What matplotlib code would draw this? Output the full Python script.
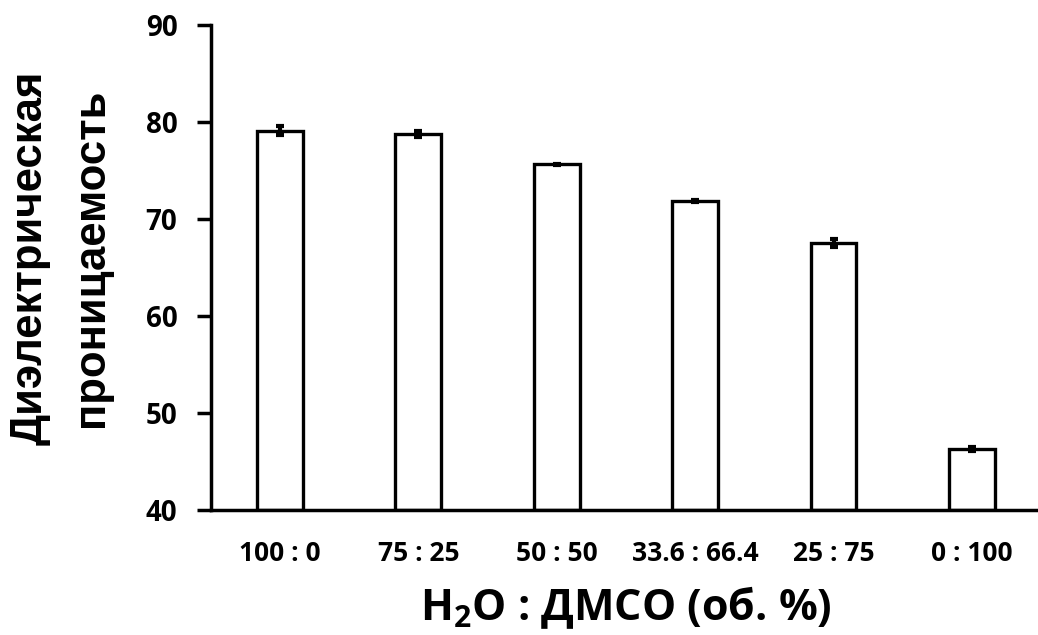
import matplotlib
matplotlib.use("Agg")
import matplotlib.pyplot as plt

# data
ratios = ["100 : 0", "75 : 25", "50 : 50", "33.6 : 66.4", "25 : 75", "0 : 100"]
permittivity = [79.1, 78.7, 75.6, 71.8, 67.5, 46.3]
errors = [0.5, 0.3, 0.1, 0.1, 0.4, 0.2]
y_ticks = [40, 50, 60, 70, 80, 90]

plt.rcParams["font.family"] = ["Open Sans", "DejaVu Sans"]
plt.rcParams["font.weight"] = "bold"
plt.rcParams["mathtext.fontset"] = "custom"
plt.rcParams["mathtext.rm"] = "Open Sans:bold"
plt.rcParams["mathtext.default"] = "rm"

fig = plt.figure(figsize=(10.38, 6.35), dpi=100)
ax = fig.add_axes([0.203, 0.197, 0.80, 0.764])

x = list(range(len(ratios)))
ax.bar(x, [v - 40 for v in permittivity], bottom=40, width=0.33,
       color="white", edgecolor="black", linewidth=2.4, zorder=2)
ax.errorbar(x, permittivity, yerr=errors, fmt="none", ecolor="black",
            elinewidth=3, capsize=3, capthick=3, zorder=3)

ax.set_ylim(40, 90)
ax.set_xlim(-0.5, 5.5)
ax.set_yticks(y_ticks)
ax.set_xticks(x)
ax.set_xticklabels(ratios, fontsize=19, fontweight="bold")
ax.tick_params(axis="y", labelsize=20, width=2.5, length=10, pad=14)
ax.tick_params(axis="x", length=0, pad=22)
for lbl in ax.get_yticklabels():
    lbl.set_fontweight("bold")

for side in ["top", "right"]:
    ax.spines[side].set_visible(False)
for side in ["left", "bottom"]:
    ax.spines[side].set_linewidth(2.5)

ax.set_ylabel("Диэлектрическая\nпроницаемость", fontsize=31.5,
              fontweight="bold", family=["Liberation Sans", "DejaVu Sans"],
              linespacing=1.62)
ax.yaxis.set_label_coords(-0.119, 0.52)
ax.set_xlabel("H$_2$O : ДМСО (об. %)", fontsize=31, fontweight="bold",
              labelpad=12)

fig.savefig("out.png", dpi=100)
